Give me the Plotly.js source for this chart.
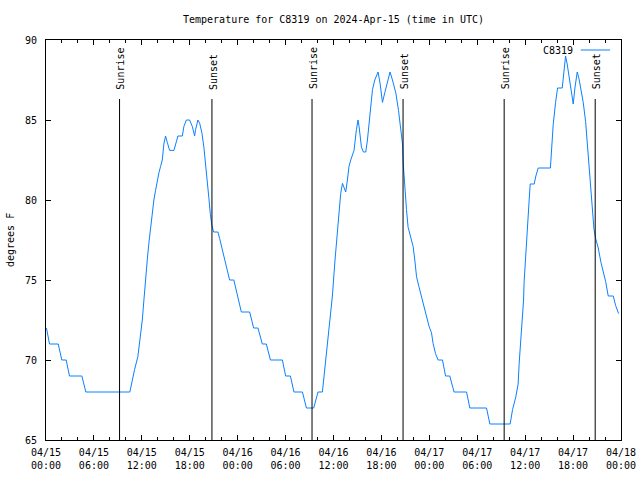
<!DOCTYPE html>
<html>
<head>
<meta charset="utf-8">
<script src="https://cdn.plot.ly/plotly-3.0.1.min.js"></script>
<style>html,body{margin:0;padding:0;background:#fff;}#chart{width:640px;height:480px;}</style>
</head>
<body>
<div id="chart"></div>
<script>
// Hours since 2024-04-15 00:00 UTC
var hours = [0.06,0.44,1.53,1.98,2.53,2.94,4.49,4.99,10.50,10.80,11.09,11.50,11.75,12.06,12.26,12.47,12.68,12.88,13.10,13.31,13.51,13.72,13.93,14.14,14.35,14.56,14.76,14.97,15.19,15.48,16.02,16.35,16.52,17.07,17.27,17.57,17.98,18.32,18.61,18.73,19.02,19.24,19.52,19.77,19.99,20.20,20.40,20.58,20.78,20.99,21.53,21.74,22.06,22.37,22.68,22.99,23.52,23.83,24.15,24.46,25.50,25.71,26.00,26.54,26.84,27.09,27.59,28.10,29.60,30.01,30.60,31.05,32.11,32.61,33.52,34.06,34.61,34.90,35.09,35.31,35.59,35.86,36.19,36.49,36.69,36.90,37.12,37.32,37.53,37.74,37.94,38.16,38.37,38.57,38.87,39.07,39.20,39.50,39.75,40.04,40.25,40.45,40.66,40.88,41.17,41.58,41.83,42.13,42.42,42.76,43.08,43.38,43.80,44.14,44.42,44.64,44.74,44.92,45.14,45.34,45.68,45.97,46.18,46.40,46.69,47.02,47.31,47.64,47.97,48.27,48.47,48.77,49.10,49.65,50.03,50.56,51.10,52.66,53.07,55.16,55.58,58.12,58.42,58.83,59.12,59.25,59.46,59.67,59.80,59.87,60.00,60.18,60.30,60.38,60.50,60.63,61.13,61.34,61.63,63.16,63.31,63.51,63.81,64.06,64.64,64.85,65.06,65.26,65.48,65.69,65.89,66.02,66.23,66.52,66.73,66.98,67.27,67.57,67.77,67.98,68.20,68.40,68.61,68.82,69.15,69.49,69.77,70.08,70.40,71.03,71.33,71.70];
var tempF = [72,71,71,70,70,69,69,68,68,68.75,69.4,70.2,71.25,72.5,73.75,75.2,76.25,77.3,78.3,79.4,80,80.6,81.25,81.7,82.1,82.5,83.5,84,83.6,83.1,83.1,83.75,84,84,84.6,85,85,84.6,84,84.4,85,84.8,84.2,83.3,82.3,81.04,80.1,79.1,78.4,78,78,77.6,76.9,76.25,75.6,75,75,74.4,73.75,73,73,72.5,72,72,71.5,71,71,70,70,69,69,68,68,67,67,68,68,69.4,70,71.1,72.4,74,76.25,77.9,79.2,80.4,81.04,80.8,80.5,81.25,82.1,82.5,82.8,83.1,84.4,85,84.6,83.3,83,83,83.75,84.8,85.8,86.9,87.5,88,87.3,86.1,86.7,87.3,88,87.5,86.7,85.6,84.6,83.5,82.2,80.6,79.4,78.3,77.7,77.1,76.25,75.2,74.6,73.96,73.3,72.7,72.1,71.7,71.04,70.4,70,70,69,69,68,68,67,67,66,66,66.9,67.7,68.5,69.8,71.25,72.5,73.75,74.9,76.1,77.4,78.4,79.2,80,81,81,81.5,82,82,83.1,84.7,86.1,87,87,88,89,88.5,87.8,87.2,86.6,86,87,88,87.6,87,86.1,84.9,83.6,82,80.5,79.3,78.2,77.6,77,76.1,75.5,74.9,74,74,73.4,72.9];

var sunriseHours = [9.21, 33.31, 57.37];
var sunsetHours = [20.78, 44.71, 68.77];

var xTickVals = [0,6,12,18,24,30,36,42,48,54,60,66,72];
var xTickText = ['04/15<br>00:00','04/15<br>06:00','04/15<br>12:00','04/15<br>18:00','04/16<br>00:00','04/16<br>06:00','04/16<br>12:00','04/16<br>18:00','04/17<br>00:00','04/17<br>06:00','04/17<br>12:00','04/17<br>18:00','04/18<br>00:00'];
var yTickVals = [65,70,75,80,85,90];

var seriesName = 'C8319';
var titleText = 'Temperature for C8319 on 2024-Apr-15 (time in UTC)';
var yTitle = 'degrees F';

var FONT = {family: 'DejaVu Sans Mono, monospace', size: 10, color: '#000'};
var lineColor = '#0a80ff';

var shapes = [];
var annotations = [];
function sunMarker(h, label) {
  shapes.push({type: 'line', xref: 'x', yref: 'paper', x0: h, x1: h, y0: 0, y1: 0.8525,
    line: {color: '#000', width: 1}});
  annotations.push({xref: 'x', yref: 'paper', x: h, y: 0.871, text: label, showarrow: false,
    textangle: -90, xanchor: 'center', yanchor: 'bottom', xshift: 1.5, font: FONT});
}
sunriseHours.forEach(function (h) { sunMarker(h, 'Sunrise'); });
sunsetHours.forEach(function (h) { sunMarker(h, 'Sunset'); });

// gnuplot-style key: text then sample line
annotations.push({xref: 'paper', yref: 'paper', x: 0.92, y: 0.975, text: seriesName, showarrow: false,
  xanchor: 'right', yanchor: 'middle', font: FONT});
shapes.push({type: 'line', xref: 'paper', yref: 'paper', x0: 0.930, x1: 0.981, y0: 0.975, y1: 0.975,
  line: {color: lineColor, width: 1}});
// y axis title
annotations.push({xref: 'paper', yref: 'paper', x: 0, y: 0.5, xshift: -36, text: yTitle, showarrow: false,
  textangle: -90, xanchor: 'center', yanchor: 'middle', font: FONT});

var trace = {
  x: hours, y: tempF, type: 'scatter', mode: 'lines', name: seriesName,
  line: {color: lineColor, width: 1}, showlegend: false, hoverinfo: 'skip'
};

var layout = {
  width: 640, height: 480,
  margin: {l: 46, r: 19, t: 40, b: 40, pad: 0},
  paper_bgcolor: '#fff', plot_bgcolor: '#fff',
  font: FONT,
  showlegend: false,
  title: {text: titleText, font: FONT, x: 0.5, xref: 'paper', xanchor: 'center', y: 1 - 19/480, yanchor: 'middle'},
  xaxis: {
    range: [0, 72], tickmode: 'array', tickvals: xTickVals, ticktext: xTickText,
    showgrid: false, zeroline: false, showline: true, linecolor: '#000', linewidth: 1, mirror: 'ticks',
    ticks: 'inside', ticklen: 5, tickcolor: '#000', tickfont: FONT, ticklabelstandoff: 3,
    minor: {tickmode: 'linear', tick0: 0, dtick: 2, ticks: 'inside', ticklen: 3, tickcolor: '#000', showgrid: false},
    fixedrange: true
  },
  yaxis: {
    range: [65, 90], tickmode: 'array', tickvals: yTickVals,
    showgrid: false, zeroline: false, showline: true, linecolor: '#000', linewidth: 1, mirror: 'ticks',
    ticks: 'inside', ticklen: 5, tickcolor: '#000', tickfont: FONT, ticklabelstandoff: 6,
    fixedrange: true
  },
  shapes: shapes,
  annotations: annotations
};

Plotly.newPlot('chart', [trace], layout, {staticPlot: true, displayModeBar: false});
</script>
</body>
</html>
